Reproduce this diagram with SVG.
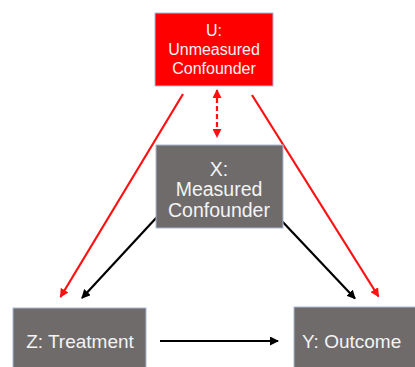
<svg xmlns="http://www.w3.org/2000/svg" width="415" height="367" viewBox="0 0 415 367">
<defs>
<style>
.box{stroke:#a9b9d6;stroke-width:1}
.red{fill:#ff0000}
.grey{fill:#6f6b6b}
.t{font-family:"Liberation Sans",Arial,sans-serif;fill:#f4f4f4}
.ln{fill:none;stroke-width:2.2}
.r{stroke:#ff1010}
.k{stroke:#000}
</style>
<marker id="ar" viewBox="0 0 9 9" refX="8" refY="4.5" markerWidth="9" markerHeight="9" markerUnits="userSpaceOnUse" orient="auto">
<path d="M0,0 L9,4.5 L0,9 Z" fill="#ff1010"/>
</marker>
<marker id="ak" viewBox="0 0 9 9" refX="8" refY="4.5" markerWidth="9" markerHeight="9" markerUnits="userSpaceOnUse" orient="auto">
<path d="M0,0 L9,4.5 L0,9 Z" fill="#000"/>
</marker>
<marker id="ard" viewBox="0 0 9 9" refX="8" refY="4.5" markerWidth="9" markerHeight="9" markerUnits="userSpaceOnUse" orient="auto-start-reverse">
<path d="M0,0 L9,4.5 L0,9 Z" fill="#ff1010"/>
</marker>
</defs>
<rect width="415" height="367" fill="#fff"/>
<g id="connectors">
<line class="ln r" x1="183" y1="94" x2="60.5" y2="297" marker-end="url(#ar)"/>
<line class="ln r" x1="252" y1="95" x2="378.5" y2="296.5" marker-end="url(#ar)"/>
<line class="ln k" x1="157" y1="217" x2="82" y2="298" marker-end="url(#ak)"/>
<line class="ln k" x1="279" y1="218" x2="355" y2="298.5" marker-end="url(#ak)"/>
<line class="ln k" x1="160" y1="341" x2="278" y2="341" stroke-width="2.6" marker-end="url(#ak)"/>
<line class="ln r" x1="217" y1="90" x2="217" y2="137" stroke-dasharray="5,3" marker-start="url(#ard)" marker-end="url(#ard)"/>
</g>
<g id="U">
<rect class="box red" x="155" y="13" width="118" height="73"/>
<text class="t" font-size="16" text-anchor="middle" x="214" y="36">U:</text>
<text class="t" font-size="16" text-anchor="middle" x="214" y="55">Unmeasured</text>
<text class="t" font-size="16" text-anchor="middle" x="214" y="74">Confounder</text>
</g>
<g id="X">
<rect class="box grey" x="156" y="145" width="127" height="83"/>
<text class="t" font-size="19.5" text-anchor="middle" x="219" y="176">X:</text>
<text class="t" font-size="19.5" text-anchor="middle" x="219" y="196">Measured</text>
<text class="t" font-size="19.5" text-anchor="middle" x="219" y="217">Confounder</text>
</g>
<g id="Z">
<rect class="box grey" x="13" y="308" width="133" height="70"/>
<text class="t" font-size="19" text-anchor="middle" x="80" y="348">Z: Treatment</text>
</g>
<g id="Y">
<rect class="box grey" x="294" y="307" width="133" height="70"/>
<text class="t" font-size="19" x="302" y="348">Y: Outcome</text>
</g>
</svg>
